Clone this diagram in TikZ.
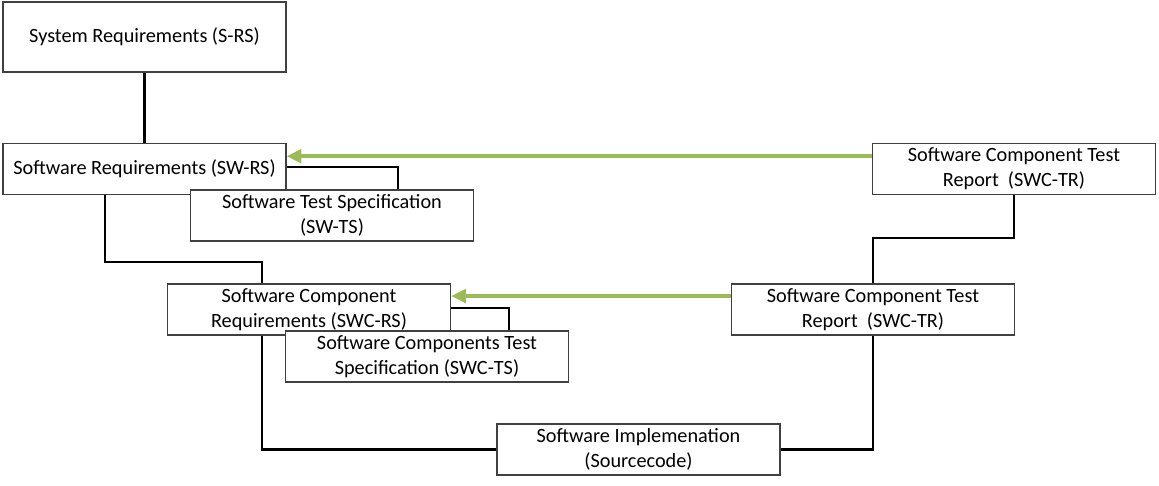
\documentclass[tikz,border=0pt]{standalone}
\usepackage{fontspec}
\setmainfont{Carlito}
\usepackage{tikz}
\usetikzlibrary{arrows.meta,positioning,calc,backgrounds}
\definecolor{fbgreen}{HTML}{9BBB59}
\definecolor{framegray}{HTML}{404040}

\begin{document}
\begin{tikzpicture}[x=0.75pt, y=-0.75pt,
      box/.style={rectangle, draw=framegray, line width=0.9pt, fill=white, align=center,
                  inner sep=0pt, minimum width=212.25pt, minimum height=38.25pt,
                  font=\fontsize{15.2}{19}\selectfont},
      link/.style={line width=2pt, black},
      fb/.style={-{Triangle[length=11pt, width=10pt]}, line width=3pt, fbgreen}]
    \useasboundingbox (0,0) rectangle (1159,485);
    % requirement side
    \node[box, minimum height=52.5pt] (srs) at (144.5,37) {System Requirements (S-RS)};
    \node[box] (swrs) at (144.5,169) {Software Requirements (SW-RS)};
    \node[box] (swts) at (332,215.5) {Software Test Specification\\(SW-TS)};
    \node[box] (swcrs) at (309,309.5) {Software Component\\Requirements (SWC-RS)};
    \node[box] (swcts) at (427,356.5) {Software Components Test\\Specification (SWC-TS)};
    % test side
    \node[box] (trtop) at (1014,169) {Software Component Test\\Report\ \ (SWC-TR)};
    \node[box] (trmid) at (873,309.5) {Software Component Test\\Report\ \ (SWC-TR)};
    \node[box] (impl) at (638.5,449.5) {Software Implemenation\\(Sourcecode)};
    % connectors behind the boxes
    \begin{scope}[on background layer]
    \draw[link] (srs) -- (swrs);
    \draw[link] ([yshift=1.5pt]swrs.east) -| ([xshift=49.5pt]swts.north);
    \draw[link] ([xshift=-29.6pt]swrs.south) -- ++(0,-50.25pt) -| ([xshift=-35.25pt]swcrs.north);
    \draw[link] ([xshift=-35.25pt]swcrs.south) |- (impl.west);
    \draw[link] ([yshift=1.2pt]swcrs.east) -| ([xshift=61.5pt]swcts.north);
    \draw[link] (trtop.south) -- ++(0,-32.25pt) -| (trmid.north);
    \draw[link] (trmid.south) |- (impl.east);
    \draw[fb] ([yshift=9.6pt]trtop.west) -- ([yshift=9.6pt]swrs.east);
    \draw[fb] ([yshift=10.1pt]trmid.west) -- ([yshift=10.1pt]swcrs.east);
    \end{scope}
  \end{tikzpicture}
\end{document}
